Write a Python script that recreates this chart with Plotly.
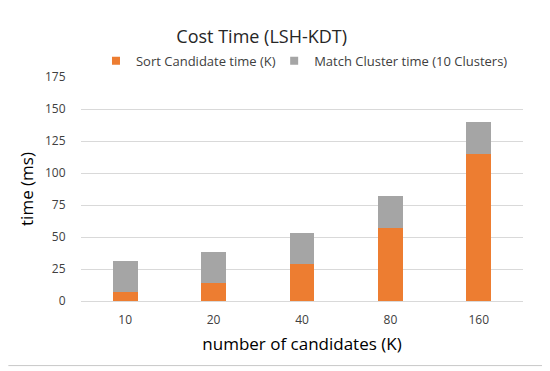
import plotly.graph_objects as go

categories = ["10", "20", "40", "80", "160"]
sort_time = [7.0, 14.1, 28.7, 57.4, 115.2]
match_time = [24.3, 24.5, 24.5, 24.5, 24.3]
series_names = ["Sort Candidate time (K)", "Match Cluster time (10 Clusters)"]
y_ticks = [0, 25, 50, 75, 100, 125, 150, 175]

ORANGE = "#ED7D31"
GRAY = "#A5A5A5"
FONT = "Open Sans"

# the page body has an 8px margin; the figure is shifted by it
OFF = 8
W_PX, H_PX = 550 - OFF, 371 - OFF
L, T = 80.7 - OFF, 77.3 - OFF
R = W_PX - (523 - OFF)
B = H_PX - (301 - OFF)
PW, PH = W_PX - L - R, H_PX - T - B


def px_to_paper_x(px):
    return (px - OFF - L) / PW


def px_to_paper_y(py):
    return 1 - (py - OFF - T) / PH


fig = go.Figure()
fig.add_trace(go.Bar(x=categories, y=sort_time, name=series_names[0],
                     marker=dict(color=ORANGE, line=dict(width=0)), showlegend=False))
fig.add_trace(go.Bar(x=categories, y=match_time, name=series_names[1],
                     marker=dict(color=GRAY, line=dict(width=0)), showlegend=False))
# legend entries with small square swatches
for name, col, lg in zip(series_names, [ORANGE, GRAY], ["legend", "legend2"]):
    fig.add_trace(go.Scatter(x=[None], y=[None], mode="markers", name=name, legend=lg,
                             marker=dict(symbol="square", size=8, color=col)))

legend_common = dict(orientation="h", xanchor="left", yanchor="middle",
                     font=dict(size=13, color="#404040"), bgcolor="rgba(0,0,0,0)",
                     itemwidth=30)

fig.update_layout(
    width=W_PX, height=H_PX,
    margin=dict(l=L, r=R, t=T, b=B, autoexpand=False),
    barmode="stack", bargap=0.72,
    paper_bgcolor="white", plot_bgcolor="white",
    font=dict(family=FONT, color="#404040", size=12),
    title=dict(text="Cost Time (LSH-KDT)", xref="container", yref="container",
               x=(261.7 - OFF) / W_PX, y=1 - (37 - OFF) / H_PX,
               xanchor="center", yanchor="middle",
               font=dict(family=FONT, size=18, color="#262626")),
    legend=dict(x=px_to_paper_x(95.7), y=px_to_paper_y(61), **legend_common),
    legend2=dict(x=px_to_paper_x(274), y=px_to_paper_y(61), **legend_common),
    xaxis=dict(type="category", showgrid=False, showline=True, linecolor="#D9D9D9",
               linewidth=1, ticks="outside", ticklen=8, tickcolor="rgba(0,0,0,0)",
               tickfont=dict(size=12, color="#404040"),
               title=dict(text="number of candidates (K)", standoff=10,
                          font=dict(size=17, color="#000000"))),
    yaxis=dict(range=[0, 175], tickvals=y_ticks, showgrid=True, gridcolor="#D9D9D9",
               gridwidth=1, zeroline=False, showline=False, ticks="outside", ticklen=12,
               tickcolor="rgba(0,0,0,0)", tickfont=dict(size=12, color="#404040"),
               title=dict(text="time (ms)", standoff=7,
                          font=dict(size=17, color="#000000"))),
    shapes=[
        dict(type="line", xref="paper", yref="paper",
             x0=px_to_paper_x(543.5), x1=px_to_paper_x(543.5),
             y0=px_to_paper_y(365.5), y1=px_to_paper_y(OFF),
             line=dict(color="#C0C0C0", width=1.5)),
        dict(type="line", xref="paper", yref="paper",
             x0=px_to_paper_x(OFF), x1=px_to_paper_x(543.5),
             y0=px_to_paper_y(365.5), y1=px_to_paper_y(365.5),
             line=dict(color="#C8C8C8", width=1)),
    ],
)

fig.write_html("out.html")
